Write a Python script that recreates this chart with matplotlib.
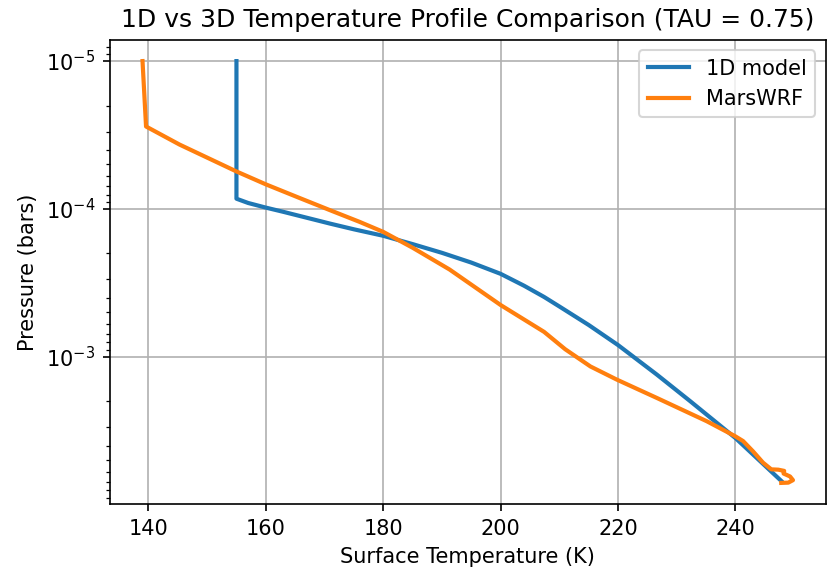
import matplotlib
matplotlib.use('Agg')
import matplotlib.pyplot as plt

# 1D model profile
temp_1d = [155.0, 155.0, 157.0, 160.0, 163.0, 166.0, 171.0, 175.0, 180.0, 185.0,
           190.0, 195.0, 200.0, 204.0, 207.4, 210.0, 215.0, 220.0, 226.6, 232.3,
           240.0, 247.8]
pres_1d = [1.0e-5, 8.53e-5, 9.12e-5, 9.8e-5, 1.047e-4, 1.122e-4, 1.259e-4, 1.374e-4, 1.52e-4, 1.73e-4,
           1.982e-4, 2.307e-4, 2.75e-4, 3.31e-4, 3.94e-4, 4.57e-4, 6.1e-4, 8.34e-4, 1.32e-3, 2.0e-3,
           3.55e-3, 6.92e-3]

# MarsWRF profile
temp_wrf = [139.0, 139.6, 145.3, 155.0, 160.0, 165.6, 171.2, 176.0, 180.0, 185.0, 191.3,
            200.0, 207.4, 211.0, 215.3, 219.8, 226.6, 235.1, 239.9, 241.3, 243.0, 244.7,
            246.1, 247.3, 248.3, 248.2, 249.3, 249.8, 249.0, 247.8]
pres_wrf = [1.0e-5, 2.77e-5, 3.67e-5, 5.58e-5, 6.82e-5, 8.39e-5, 1.03e-4, 1.225e-4, 1.43e-4, 1.83e-4, 2.57e-4,
            4.47e-4, 6.79e-4, 8.9e-4, 1.164e-3, 1.429e-3, 1.90e-3, 2.73e-3, 3.44e-3, 3.72e-3, 4.37e-3, 5.21e-3,
            5.78e-3, 5.81e-3, 5.92e-3, 6.17e-3, 6.46e-3, 6.84e-3, 7.11e-3, 7.14e-3]

fig = plt.figure(figsize=(827 / 150, 575 / 150), dpi=150)
ax = fig.add_axes([110 / 827, 71 / 575, 715.5 / 827, 464 / 575])

ax.plot(temp_1d, pres_1d, lw=2, label='1D model')
ax.plot(temp_wrf, pres_wrf, lw=2, label='MarsWRF')

ax.set_yscale('log')
ax.invert_yaxis()
ax.set_xlabel('Surface Temperature (K)')
ax.set_ylabel('Pressure (bars)')
ax.set_title('1D vs 3D Temperature Profile Comparison (TAU = 0.75)')
ax.grid(True)
ax.legend(loc='upper right')

fig.savefig('out.png', dpi=150)
